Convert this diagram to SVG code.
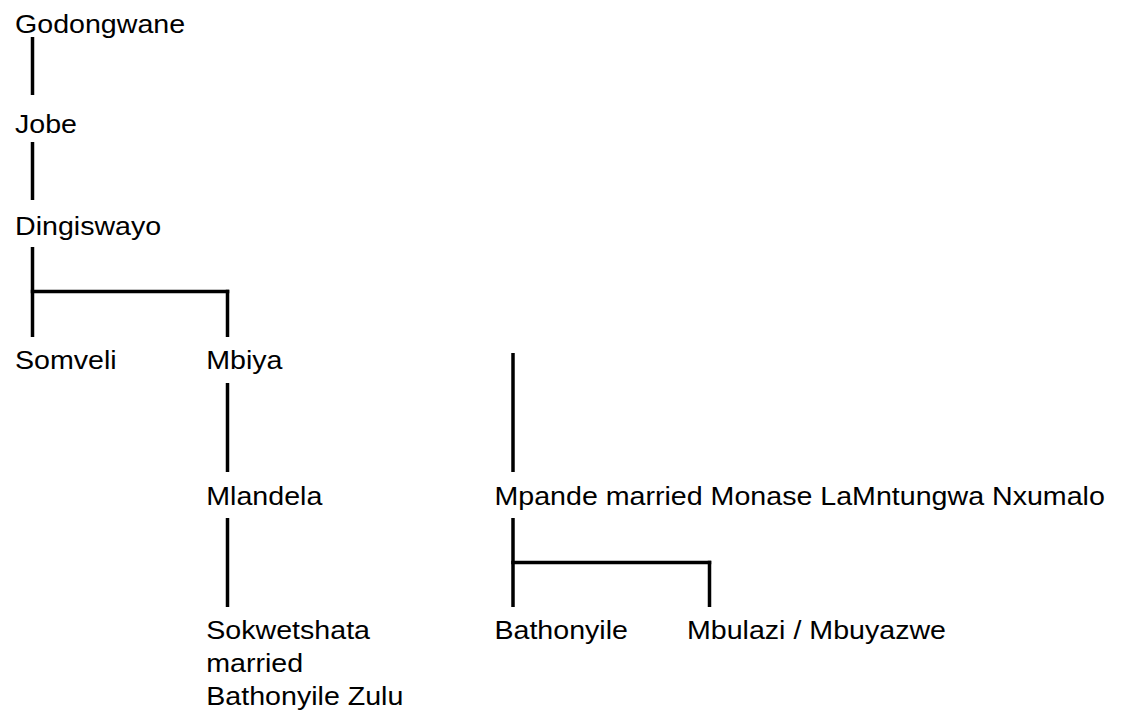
<svg xmlns="http://www.w3.org/2000/svg" width="1125" height="716" viewBox="0 0 1125 716">
<style>
text{font-family:"Liberation Sans",Arial,sans-serif;font-size:26px;fill:#000}
.c line{stroke:#000;stroke-width:3.5;stroke-linecap:butt}
</style>
<rect width="1125" height="716" fill="#fff"/>
<g class="c" id="connectors">
<line x1="32.5" y1="37" x2="32.5" y2="95"/>
<line x1="32.5" y1="142" x2="32.5" y2="200"/>
<line x1="32.5" y1="247" x2="32.5" y2="337"/>
<line x1="30.75" y1="291.5" x2="229.25" y2="291.5"/>
<line x1="227.5" y1="289.75" x2="227.5" y2="337"/>
<line x1="227.5" y1="383" x2="227.5" y2="472"/>
<line x1="227.5" y1="518" x2="227.5" y2="607"/>
<line x1="513" y1="353" x2="513" y2="472"/>
<line x1="513" y1="518" x2="513" y2="607"/>
<line x1="511.25" y1="562.5" x2="711.25" y2="562.5"/>
<line x1="709.5" y1="560.75" x2="709.5" y2="607"/>
</g>
<g transform="scale(1.1 1)">
<g id="godongwane"><text x="13.64" y="33">Godongwane</text></g>
<g id="jobe"><text x="13.64" y="133">Jobe</text></g>
<g id="dingiswayo"><text x="13.64" y="235">Dingiswayo</text></g>
<g id="somveli"><text x="13.64" y="369">Somveli</text></g>
<g id="mbiya"><text x="187.5" y="369">Mbiya</text></g>
<g id="mlandela"><text x="187.5" y="505">Mlandela</text></g>
<g id="mpande"><text x="449.5" y="505">Mpande married Monase LaMntungwa Nxumalo</text></g>
<g id="sokwetshata"><text x="187.5" y="639">Sokwetshata</text><text x="187.5" y="672">married</text><text x="187.5" y="705">Bathonyile Zulu</text></g>
<g id="bathonyile"><text x="449.5" y="639">Bathonyile</text></g>
<g id="mbulazi"><text x="624.5" y="639">Mbulazi / Mbuyazwe</text></g>
</g>
</svg>
